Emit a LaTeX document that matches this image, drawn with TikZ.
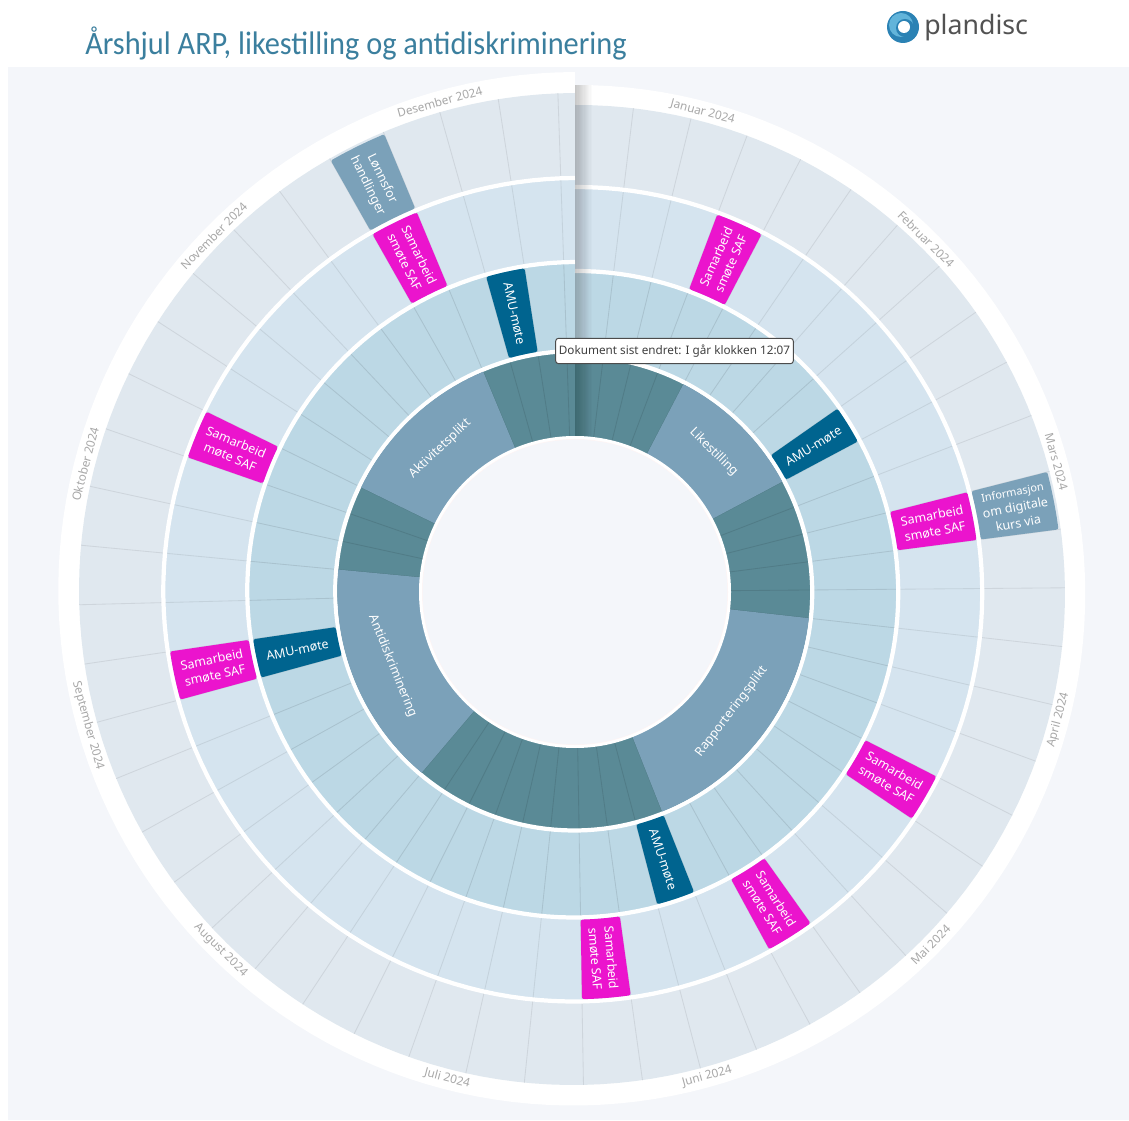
\documentclass[tikz,border=0pt]{standalone}
\usepackage{fontspec}
\setmainfont{Noto Sans}
\newfontfamily\titlefont[FakeStretch=0.93]{Carlito}
\usetikzlibrary{math}

\definecolor{bakgrunn}{HTML}{F4F6FA}
\definecolor{ringgraa}{HTML}{E0E8EF}
\definecolor{ringlys}{HTML}{D5E4EF}
\definecolor{ringmid}{HTML}{BCD8E5}
\definecolor{ringmork}{HTML}{5A8A96}
\definecolor{blokkblaa}{HTML}{7BA1B9}
\definecolor{amublaa}{HTML}{00648F}
\definecolor{samarbeid}{HTML}{EB14CD}
\definecolor{tittelblaa}{HTML}{3B7F9E}
\definecolor{logoblaa}{HTML}{2B82B4}
\definecolor{logolys}{HTML}{62B4DA}

\tikzset{
  maaned/.style={text=black!34, font=\fontsize{8.4}{10}\selectfont, inner sep=0pt},
  bokstekst/.style={text=white, align=center, font=\fontsize{8.9}{11.4}\selectfont, inner sep=0pt},
  skille/.style={white, line width=3pt},
}

\def\ringA{{155,236,321,405,487,507}}
\def\ringB{{0,5,9,9,12,13}}

% style, first angle, last angle, inner a, inner b, outer a, outer b
\newcommand{\sektor}[7]{
  \pgfmathsetmacro\nn{int(max(4,abs(#3-#2)/2+2))}
  \path[#1] plot[variable=\t,domain=#2:#3,samples=\nn] ({\x+(#6+#7*\t/360)*sin(\t)},{\y+(#6+#7*\t/360)*cos(\t)})
    -- plot[variable=\t,domain=#3:#2,samples=\nn] ({\x+(#4+#5*\t/360)*sin(\t)},{\y+(#4+#5*\t/360)*cos(\t)}) -- cycle;
}

% name, week, ring, colour, text
\newcommand{\boks}[5]{
  \pgfmathsetmacro\ta{#2*\wk}
  \pgfmathsetmacro\tb{(#2+1)*\wk}
  \pgfmathsetmacro\tm{(#2+0.5)*\wk}
  \pgfmathsetmacro\ia{\ringA[#3-1]+2.2}
  \pgfmathsetmacro\ib{\ringB[#3-1]}
  \pgfmathsetmacro\oa{\ringA[#3]-2.2}
  \pgfmathsetmacro\ob{\ringB[#3]}
  \sektor{fill=#4, rounded corners=1.5pt}{\ta}{\tb}{\ia}{\ib}{\oa}{\ob}
  \pgfmathsetmacro\rr{(\ia+\oa)/2+(\ib+\ob)/2*\tm/360}
  \pgfmathsetmacro\rot{\tm<180 ? 90-\tm : 270-\tm}
  \node[bokstekst, rotate=\rot] (#1) at ({\x+\rr*sin(\tm)},{\y+\rr*cos(\tm)}) {#5};
}

% name, first week, last week, text
\newcommand{\tema}[4]{
  \pgfmathsetmacro\ta{#2*\wk}
  \pgfmathsetmacro\tb{#3*\wk}
  \pgfmathsetmacro\tm{(#2+#3)/2*\wk}
  \sektor{fill=blokkblaa}{\ta}{\tb}{155}{0}{234}{5}
  \pgfmathsetmacro\rot{(\tm>90 && \tm<270) ? 180-\tm : -\tm}
  \node[bokstekst, rotate=\rot] (#1) at ({\x+197*sin(\tm)},{\y+197*cos(\tm)}) {#4};
}

\begin{document}
\begin{tikzpicture}[x=0.025cm,y=0.025cm]

\tikzmath{ \x = 575; \y = 528; \wk = 360/52.2857; }

\useasboundingbox (0,0) rectangle (1129,1120);
\fill[white] (0,0) rectangle (1129,1120);
\fill[bakgrunn] (8,0) rectangle (1129,1053);

// Tittel og logo
\node[anchor=base west, text=tittelblaa, font=\titlefont\fontsize{23.2}{26}\selectfont, inner sep=0pt] (tittel) at (85,1065) {Årshjul ARP, likestilling og antidiskriminering};
\fill[logoblaa] (903,1093) circle[radius=16];
\fill[logolys] (901,1095) circle[radius=12];
\fill[logoblaa] (905,1092) circle[radius=9];
\fill[white] (904,1093) circle[radius=6];
\node[anchor=base west, text=black!68, font=\fontsize{19}{22}\selectfont, inner sep=0pt] (logo) at (924,1085) {plandisc};

// Ringene
\foreach \i/\farge in {5/white,4/ringgraa,3/ringlys,2/ringmid,1/ringmork} {
  \pgfmathsetmacro\oa{\ringA[\i]}
  \pgfmathsetmacro\ob{\ringB[\i]}
  \sektor{fill=\farge}{0}{360}{0}{0}{\oa}{\ob}
}

// Ukelinjer
\foreach \i/\farge in {1/black!10!ringmork,2/ringmid!90!black,3/ringlys!92!black,4/ringgraa!92!black} {
  \pgfmathsetmacro\ia{\ringA[\i-1]}
  \pgfmathsetmacro\ib{\ringB[\i-1]}
  \pgfmathsetmacro\oa{\ringA[\i]}
  \pgfmathsetmacro\ob{\ringB[\i]}
  \foreach \k in {1,...,52} {
    \pgfmathsetmacro\t{\k*\wk}
    \draw[\farge, line width=0.6pt] ({\x+(\ia+\ib*\t/360)*sin(\t)},{\y+(\ia+\ib*\t/360)*cos(\t)})
      -- ({\x+(\oa+\ob*\t/360)*sin(\t)},{\y+(\oa+\ob*\t/360)*cos(\t)});
  }
}

// Skillelinjer
\foreach \i in {1,2,3} {
  \pgfmathsetmacro\oa{\ringA[\i]}
  \pgfmathsetmacro\ob{\ringB[\i]}
  \draw[skille] plot[variable=\t,domain=0:360,samples=180] ({\x+(\oa+\ob*\t/360)*sin(\t)},{\y+(\oa+\ob*\t/360)*cos(\t)});
}

// Temaer
\tema{likestilling}{4}{9}{Likestilling}
\tema{rapportering}{14}{23}{Rapporteringsplikt}
\tema{antidisk}{32}{40}{Antidiskriminering}
\tema{aktivitet}{43}{49}{Aktivitetsplikt}

// Midten
\fill[white] (\x,\y) circle[radius=156];
\fill[black!8!red!4!white] (\x,\y) circle[radius=153];
\fill[bakgrunn] (\x,\y) circle[radius=152.3];

// AMU
\boks{amuA}{8}{2}{amublaa}{AMU-møte}
\boks{amuB}{23}{2}{amublaa}{AMU-møte}
\boks{amuC}{37}{2}{amublaa}{AMU-møte}
\boks{amuD}{50}{2}{amublaa}{AMU-møte}

// Samarbeid
\boks{samA}{3}{3}{samarbeid}{Samarbeid\\smøte SAF}
\boks{samB}{11}{3}{samarbeid}{Samarbeid\\smøte SAF}
\boks{samC}{17}{3}{samarbeid}{Samarbeid\\smøte SAF}
\boks{samD}{21}{3}{samarbeid}{Samarbeid\\smøte SAF}
\boks{samE}{25}{3}{samarbeid}{Samarbeid\\smøte SAF}
\boks{samF}{37}{3}{samarbeid}{Samarbeid\\smøte SAF}
\boks{samG}{42}{3}{samarbeid}{Samarbeid\\møte SAF}
\boks{samH}{48}{3}{samarbeid}{Samarbeid\\smøte SAF}

// Ytterste ring
\boks{info}{11}{4}{blokkblaa}{\fontsize{7.8}{9.6}\selectfont Informasjon\\om digitale\\kurs via}
\boks{lonn}{48}{4}{blokkblaa}{Lønnsfor\\handlinger}

// Maaneder
\foreach \navn [count=\m from 0] in {Januar,Februar,Mars,April,Mai,Juni,Juli,August,September,Oktober,November,Desember} {
  \pgfmathsetmacro\th{14.9+29.97*\m}
  \pgfmathsetmacro\rr{496+13*\th/360}
  \pgfmathsetmacro\rot{(\th>90 && \th<270) ? 180-\th : -\th}
  \node[maaned, rotate=\rot] (mnd\m) at ({\x+\rr*sin(\th)},{\y+\rr*cos(\th)}) {\navn{} 2024};
}

// Skygge langs skjoeten
\foreach \i in {1,...,14} {
  \fill[black, opacity=0.017] (\x,683.5) rectangle (\x+1.2*\i,1035);
}

// Merkelapp
\node[draw=black!70, fill=white, rounded corners=2pt, line width=0.7pt, text=black!75, font=\fontsize{8.35}{11}\selectfont, minimum width=169pt, minimum height=18pt, inner sep=0pt] (merkelapp) at (674.5,769) {Dokument sist endret: I går klokken 12:07};

\end{tikzpicture}
\end{document}
